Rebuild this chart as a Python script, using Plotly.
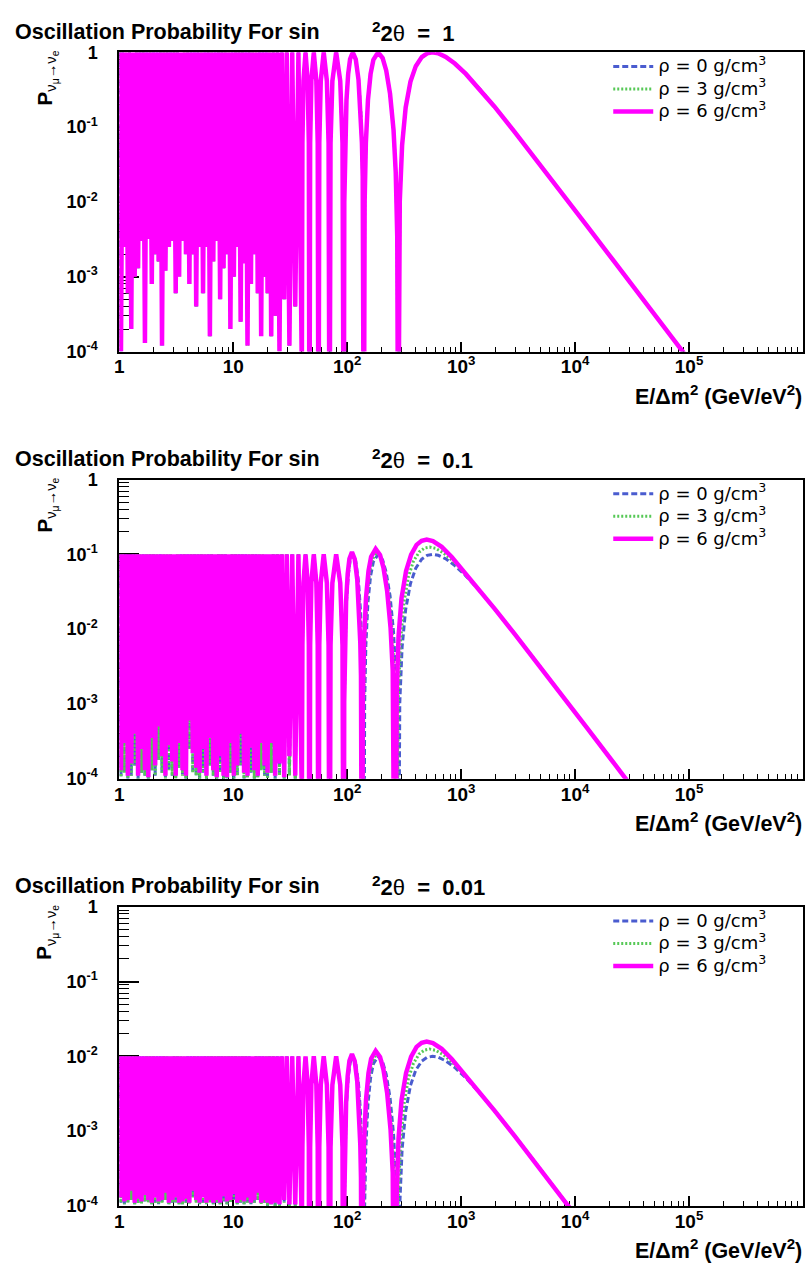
import plotly.graph_objects as go

W, H = 807, 1274

# ---------------- data ----------------
SIN2_2THETA = [1.0, 0.1, 0.01]
TITLE_VALUES = ["1", "0.1", "0.01"]
DENSITY_LABELS = ["ρ = 0 g/cm<sup>3</sup>", "ρ = 3 g/cm<sup>3</sup>", "ρ = 6 g/cm<sup>3</sup>"]

# fast-oscillation region: maxima / minima positions (E/dm^2)
DENSE_PEAK_E = [1.000, 1.072, 1.148, 1.230, 1.318, 1.413, 1.514, 1.622, 1.738, 1.862, 1.995,
                2.138, 2.291, 2.455, 2.630, 2.818, 3.020, 3.236, 3.467, 3.715, 3.981, 4.266,
                4.571, 4.898, 5.248, 5.623, 6.026, 6.457, 6.918, 7.413, 7.943, 8.511, 9.120,
                9.772, 10.47, 11.22, 12.02, 12.88, 13.80, 14.79, 15.85, 16.98, 18.20, 19.50,
                20.74, 22.4, 24.35, 26.67, 29.47, 32.94, 37.33]
DENSE_TROUGH_E = [1.035, 1.109, 1.189, 1.274, 1.365, 1.462, 1.567, 1.679, 1.799, 1.928, 2.065,
                  2.213, 2.371, 2.541, 2.723, 2.917, 3.126, 3.350, 3.589, 3.846, 4.121, 4.416,
                  4.732, 5.070, 5.433, 5.821, 6.237, 6.683, 7.161, 7.674, 8.222, 8.810, 9.441,
                  10.12, 10.84, 11.61, 12.45, 13.34, 14.29, 15.31, 16.41, 17.58, 18.84,
                  20.0, 21.54, 23.33, 25.45, 28.0, 31.11, 35.0, 40.0]

# depth of the minima (absolute probability) in the fast region
TROUGH_P_PANEL1 = [1e-4, 2.5e-3, 6e-4, 2e-4, 1e-3, 1.3e-3, 3e-3, 1.3e-4, 3.2e-3, 8e-4,
                   2e-3, 1.6e-3, 1.2e-4, 1.2e-3, 2.5e-3, 3e-3, 6e-4, 1e-3, 3e-3, 2e-3,
                   8e-4, 2e-3, 4e-4, 2.5e-3, 6e-4, 2.5e-3, 1.6e-4, 1.6e-3, 3e-3, 5e-4,
                   1.3e-3, 2e-3, 2e-4, 1e-3, 2.5e-3, 2.5e-4, 1.5e-3, 1.2e-4, 8e-4, 2e-3,
                   6e-4, 1.6e-4, 1e-3,
                   6e-4, 1.6e-4, 3e-4, 1e-4, 5e-4, 1.2e-4, 4e-4, 5e-5]
TROUGH_P_PANEL2_RHO6 = [1.3e-4, 3e-4, 1.1e-4, 1.6e-4, 4e-4, 1.1e-4, 2.5e-4, 1.3e-4, 1.05e-4, 3.5e-4,
                        1.5e-4, 5e-4, 2e-4, 1.1e-4, 2.8e-4, 1.7e-4, 1.1e-4, 3e-4, 1.3e-4, 1.1e-4,
                        6e-4, 2.2e-4, 1.4e-4, 1.2e-4, 2.5e-4, 1.1e-4, 3.5e-4, 1.3e-4, 1.05e-4, 2e-4,
                        1.1e-4, 1.05e-4, 3e-4, 1.1e-4, 1.5e-4, 4e-4, 1.2e-4, 1.1e-4, 2.6e-4, 1.3e-4,
                        1.1e-4, 3e-4, 1.5e-4,
                        1.2e-4, 3e-4, 1.1e-4, 1.6e-4, 1.05e-4, 2e-4, 1.1e-4, 5e-5]
TROUGH_P_PANEL2_RHO03 = [1.05e-4, 1.2e-4, 1.0e-4, 1.1e-4, 1.5e-4, 1.0e-4, 1.2e-4, 1.1e-4, 1.0e-4, 1.3e-4,
                         1.1e-4, 1.8e-4, 1.2e-4, 1.0e-4, 1.3e-4, 1.1e-4, 1.0e-4, 1.4e-4, 1.1e-4, 1.0e-4,
                         2.5e-4, 1.2e-4, 1.1e-4, 1.0e-4, 1.2e-4, 1.0e-4, 1.5e-4, 1.1e-4, 1.0e-4, 1.2e-4,
                         1.0e-4, 1.0e-4, 1.2e-4, 1.0e-4, 1.1e-4, 1.5e-4, 1.0e-4, 1.05e-4, 1.2e-4, 1.0e-4,
                         1.05e-4, 1.3e-4, 1.1e-4,
                         1.0e-4, 1.2e-4, 1.0e-4, 1.1e-4, 1.0e-4, 1.1e-4, 1.0e-4, 5e-5]
TROUGH_P_PANEL3_RHO6 = [1.3e-4, 1.15e-4, 1.2e-4, 1.6e-4, 1.1e-4, 1.25e-4, 1.15e-4, 1.4e-4, 1.2e-4, 1.1e-4,
                        1.3e-4, 1.15e-4, 1.2e-4, 1.5e-4, 1.1e-4, 1.2e-4, 1.3e-4, 1.1e-4, 1.15e-4, 1.25e-4,
                        1.1e-4, 1.6e-4, 1.2e-4, 1.1e-4, 1.3e-4, 1.1e-4, 1.2e-4, 1.1e-4, 1.2e-4, 1.1e-4,
                        1.35e-4, 1.15e-4, 1.2e-4, 1.45e-4, 1.1e-4, 1.2e-4, 1.15e-4, 1.3e-4, 1.1e-4, 1.2e-4,
                        1.5e-4, 1.1e-4, 1.2e-4,
                        1.1e-4, 1.05e-4, 1.1e-4, 1.05e-4, 1.2e-4, 1.05e-4, 1.05e-4, 5e-5]
TROUGH_P_PANEL3_RHO03 = [1.1e-4, 1.05e-4, 1.1e-4, 1.2e-4, 1.05e-4, 1.1e-4, 1.05e-4, 1.15e-4, 1.1e-4, 1.05e-4,
                         1.1e-4, 1.05e-4, 1.1e-4, 1.2e-4, 1.05e-4, 1.1e-4, 1.1e-4, 1.05e-4, 1.05e-4, 1.1e-4,
                         1.05e-4, 1.3e-4, 1.1e-4, 1.05e-4, 1.1e-4, 1.05e-4, 1.1e-4, 1.05e-4, 1.1e-4, 1.05e-4,
                         1.15e-4, 1.05e-4, 1.1e-4, 1.2e-4, 1.05e-4, 1.1e-4, 1.05e-4, 1.1e-4, 1.05e-4, 1.1e-4,
                         1.2e-4, 1.05e-4, 1.1e-4,
                         1.0e-4, 1.05e-4, 1.0e-4, 1.0e-4, 1.1e-4, 1.0e-4, 1.0e-4, 5e-5]

# resolved narrow arches (40 .. 93), relative to sin^2(2theta)
ARCH_E = [40.46, 41.32, 43.08, 44.99, 46.05, 46.67,
          47.29, 48.47, 50.91, 53.61, 55.12, 56.0,
          56.91, 58.61, 62.22, 66.31, 68.64, 70.0,
          71.42, 74.13, 80.0, 86.88, 90.92, 93.33]
ARCH_REL = [0.0612, 0.415, 1.0, 0.415, 0.0612, 1e-6,
            0.0612, 0.415, 1.0, 0.415, 0.0612, 1e-6,
            0.0612, 0.415, 1.0, 0.415, 0.0612, 1e-6,
            0.0612, 0.415, 1.0, 0.415, 0.0612, 1e-6]

# last three arches + high-energy tail, relative to sin^2(2theta)
VAC_E = [94.33, 95.88, 98.56, 101.99, 105.98, 112.0, 118.87, 125.66, 131.29, 134.65, 136.74, 140.0,
         142.27, 145.8, 152.1, 160.4, 169.7, 186.7, 204.6, 219.9, 237.7, 255.0, 266.6, 274.9, 280.0,
         289.4, 303.3, 325.8, 359.0, 399.8, 451.1, 502.7, 560.0, 628.3, 733.0, 879.6, 1099.6,
         1466, 1955, 2932, 4398, 7330, 12566, 21991, 43982, 87965, 109956]
VAC_REL = [0.00997, 0.0612, 0.2298, 0.5146, 0.814, 1.0, 0.808, 0.432, 0.164, 0.0612, 0.0223, 1e-6,
           0.00997, 0.0612, 0.2298, 0.5146, 0.794, 1.0, 0.839, 0.573, 0.280, 0.0921, 0.0249, 0.0034, 1e-6,
           0.0103, 0.0573, 0.1827, 0.4068, 0.6537, 0.863, 0.9683, 1.0, 0.9711, 0.8687, 0.7081, 0.5146,
           0.3188, 0.1892, 0.0873, 0.0395, 0.01433, 0.00489, 0.0016, 0.0004, 0.0001, 0.000064]

RHO3_E = [94.24, 95.69, 98.17, 101.5, 105.2, 111.0, 117.6, 124.0, 129.3, 132.5, 134.4, 137.5,
          139.6, 142.9, 148.9, 156.7, 165.6, 181.8, 199.1, 213.7, 230.8, 247.4, 258.6, 266.7, 271.6,
          280.7, 293.6, 313.7, 343.9, 381.0, 427.6, 475.1, 528.1, 595.6, 702.2, 851.5, 1077.6,
          1451.3, 1955, 2932, 4398, 7330, 12566, 21991, 43982, 87965, 109956]
RHO3_REL = [0.0103, 0.063, 0.237, 0.53, 0.84, 1.03, 0.832, 0.445, 0.169, 0.063, 0.023, 1e-6,
            0.0106, 0.0649, 0.2436, 0.5455, 0.8417, 1.09, 0.906, 0.613, 0.2996, 0.0976, 0.0264, 0.0036, 1e-6,
            0.012, 0.0676, 0.219, 0.496, 0.804, 1.07, 1.21, 1.25, 1.204, 1.042, 0.807, 0.551,
            0.328, 0.1892, 0.0873, 0.0395, 0.01433, 0.00489, 0.0016, 0.0004, 0.0001, 0.000064]

RHO6_E = [94.14, 95.5, 97.87, 100.97, 104.6, 110.1, 116.4, 122.5, 127.5, 130.3, 132.1, 135.1,
          137.1, 140.4, 146.2, 153.7, 162.1, 177.7, 194.2, 208.0, 224.4, 240.2, 250.9, 258.4, 263.2,
          272.0, 282.1, 299.7, 328.5, 363.8, 406.0, 449.9, 498.4, 565.5, 674.4, 826.8, 1055.6,
          1436.7, 1955, 2932, 4398, 7330, 12566, 21991, 43982, 87965, 109956]
RHO6_REL = [0.0106, 0.065, 0.244, 0.548, 0.87, 1.07, 0.865, 0.46, 0.175, 0.0655, 0.0239, 1e-6,
            0.0112, 0.0692, 0.262, 0.597, 0.929, 1.18, 0.982, 0.665, 0.319, 0.104, 0.0279, 0.0038, 1e-6,
            0.0139, 0.0791, 0.259, 0.598, 0.987, 1.338, 1.52, 1.58, 1.505, 1.26, 0.921, 0.592,
            0.335, 0.1892, 0.0873, 0.0395, 0.01433, 0.00489, 0.0016, 0.0004, 0.0001, 0.000064]

X_TICK_VALS = [1, 10, 100, 1e3, 1e4, 1e5]
X_TICK_TEXT = ["1", "10", "10<sup>2</sup>", "10<sup>3</sup>", "10<sup>4</sup>", "10<sup>5</sup>"]
Y_TICK_VALS = [1e-4, 1e-3, 1e-2, 1e-1, 1]
Y_TICK_TEXT = ["10<sup>-4</sup>", "10<sup>-3</sup>", "10<sup>-2</sup>", "10<sup>-1</sup>", "1"]

# ---------------- styling ----------------
COLORS = ["#4a5ccf", "#56c856", "#ff00ff"]
WIDTHS = [3, 3, 4.5]
DASHES = ["6px,3px", "2px,2px", "solid"]
FONT = "Liberation Sans, Arial, sans-serif"
LEG_FONT = "DejaVu Sans, Liberation Sans, sans-serif"
NB = "\u00a0"

PANEL_TOP = [43, 477, 911]      # px
PANEL_BOTTOM = [347, 781, 1215]
X_LEFT, X_RIGHT = 115, 803


def fx(px):
    return px / W


def fy(py):
    return 1 - py / H


def build(amp, troughs, big_e, big_rel):
    xs, ys = [], []
    for pe, te, tp in zip(DENSE_PEAK_E, DENSE_TROUGH_E, troughs):
        xs += [pe, te]
        ys += [amp, tp]
    xs += ARCH_E
    ys += [amp * r for r in ARCH_REL]
    xs += big_e
    ys += [amp * r for r in big_rel]
    return xs, ys


fig = go.Figure()
layout = dict(width=W, height=H, margin=dict(l=0, r=0, t=0, b=0), autosize=False,
              paper_bgcolor="white", plot_bgcolor="white", showlegend=True,
              font=dict(family=FONT, color="black"))
annotations = []

minor_x = [m * 10 ** d for d in range(6) for m in range(2, 10)]
minor_y = [m * 10.0 ** d for d in range(-4, 0) for m in range(2, 10)]

for i in range(3):
    s = "" if i == 0 else str(i + 1)
    amp = SIN2_2THETA[i]
    if i == 0:
        series = [(TROUGH_P_PANEL1, VAC_E, VAC_REL)] * 3
    elif i == 1:
        series = [(TROUGH_P_PANEL2_RHO03, VAC_E, VAC_REL),
                  (TROUGH_P_PANEL2_RHO03, RHO3_E, RHO3_REL),
                  (TROUGH_P_PANEL2_RHO6, RHO6_E, RHO6_REL)]
    else:
        series = [(TROUGH_P_PANEL3_RHO03, VAC_E, VAC_REL),
                  (TROUGH_P_PANEL3_RHO03, RHO3_E, RHO3_REL),
                  (TROUGH_P_PANEL3_RHO6, RHO6_E, RHO6_REL)]
    leg = "legend" if i == 0 else "legend" + str(i + 1)
    for j, (tr, be, br) in enumerate(series):
        xs, ys = build(amp, tr, be, br)
        fig.add_trace(go.Scatter(
            x=xs, y=ys, mode="lines",
            name='<span style="font-size:18px">' + DENSITY_LABELS[j] + "</span>",
            line=dict(color=COLORS[j], width=WIDTHS[j], dash=DASHES[j]),
            xaxis="x" + s, yaxis="y" + s, legend=leg, hoverinfo="skip"))

    top, bot = PANEL_TOP[i], PANEL_BOTTOM[i]
    layout["xaxis" + s] = dict(
        type="log", range=[0, 6], domain=[fx(X_LEFT), fx(X_RIGHT)], anchor="y" + s,
        showline=True, linecolor="black", linewidth=2, mirror=True, showgrid=False,
        zeroline=False, ticks="inside", ticklen=10, tickwidth=2, tickcolor="black",
        tickmode="array", tickvals=X_TICK_VALS,
        ticktext=["<b>" + t + "</b>" for t in X_TICK_TEXT],
        tickfont=dict(size=19, family=FONT, color="black"), ticklabelstandoff=-3,
        minor=dict(tickmode="array", tickvals=minor_x, ticks="inside", ticklen=5,
                   tickwidth=1, tickcolor="black", showgrid=False),
        layer="below traces", fixedrange=True)
    layout["yaxis" + s] = dict(
        type="log", range=[-4, 0], domain=[fy(bot), fy(top)], anchor="x" + s,
        showline=True, linecolor="black", linewidth=2, mirror=True, showgrid=False,
        zeroline=False, ticks="inside", ticklen=20, tickwidth=2, tickcolor="black",
        tickmode="array", tickvals=Y_TICK_VALS,
        ticktext=["<b>" + t + "</b>" for t in Y_TICK_TEXT],
        tickfont=dict(size=18, family=FONT, color="black"), ticklabelstandoff=16,
        minor=dict(tickmode="array", tickvals=minor_y, ticks="inside", ticklen=10,
                   tickwidth=1, tickcolor="black", showgrid=False),
        layer="below traces", fixedrange=True)

    layout[leg] = dict(
        x=fx(607), y=fy(top - 2), xanchor="left", yanchor="top",
        bgcolor="rgba(0,0,0,0)", borderwidth=0, itemwidth=40, tracegroupgap=0,
        font=dict(size=15, family=LEG_FONT, color="black"))

    # panel title
    annotations.append(dict(
        text="<b>Oscillation Probability For sin</b>", x=fx(8), y=fy(top - 21),
        xref="paper", yref="paper", xanchor="left", yanchor="middle", showarrow=False,
        font=dict(size=21.5, family=FONT, color="black")))
    annotations.append(dict(
        text="<b><sup>2</sup>2</b>θ<b>" + NB + NB + "=" + NB + NB + TITLE_VALUES[i] + "</b>",
        x=fx(367), y=fy(top - 21),
        xref="paper", yref="paper", xanchor="left", yanchor="middle", showarrow=False,
        font=dict(size=22, family=FONT, color="black")))
    # x axis title
    annotations.append(dict(
        text="<b>E/Δm<sup>2</sup> (GeV/eV<sup>2</sup>)</b>", x=fx(804), y=fy(bot + 44),
        xref="paper", yref="paper", xanchor="right", yanchor="middle", showarrow=False,
        font=dict(size=21.5, family=FONT, color="black")))
    # y axis title
    annotations.append(dict(
        text="<b>P</b><sub>ν<sub>μ</sub>→ν<sub>e</sub></sub>", x=fx(42), y=fy(top + 26),
        xref="paper", yref="paper", xanchor="center", yanchor="middle", showarrow=False,
        textangle=-90, font=dict(size=21, family=FONT, color="black")))

layout["annotations"] = annotations
fig.update_layout(**layout)
fig.write_html("out.html")
